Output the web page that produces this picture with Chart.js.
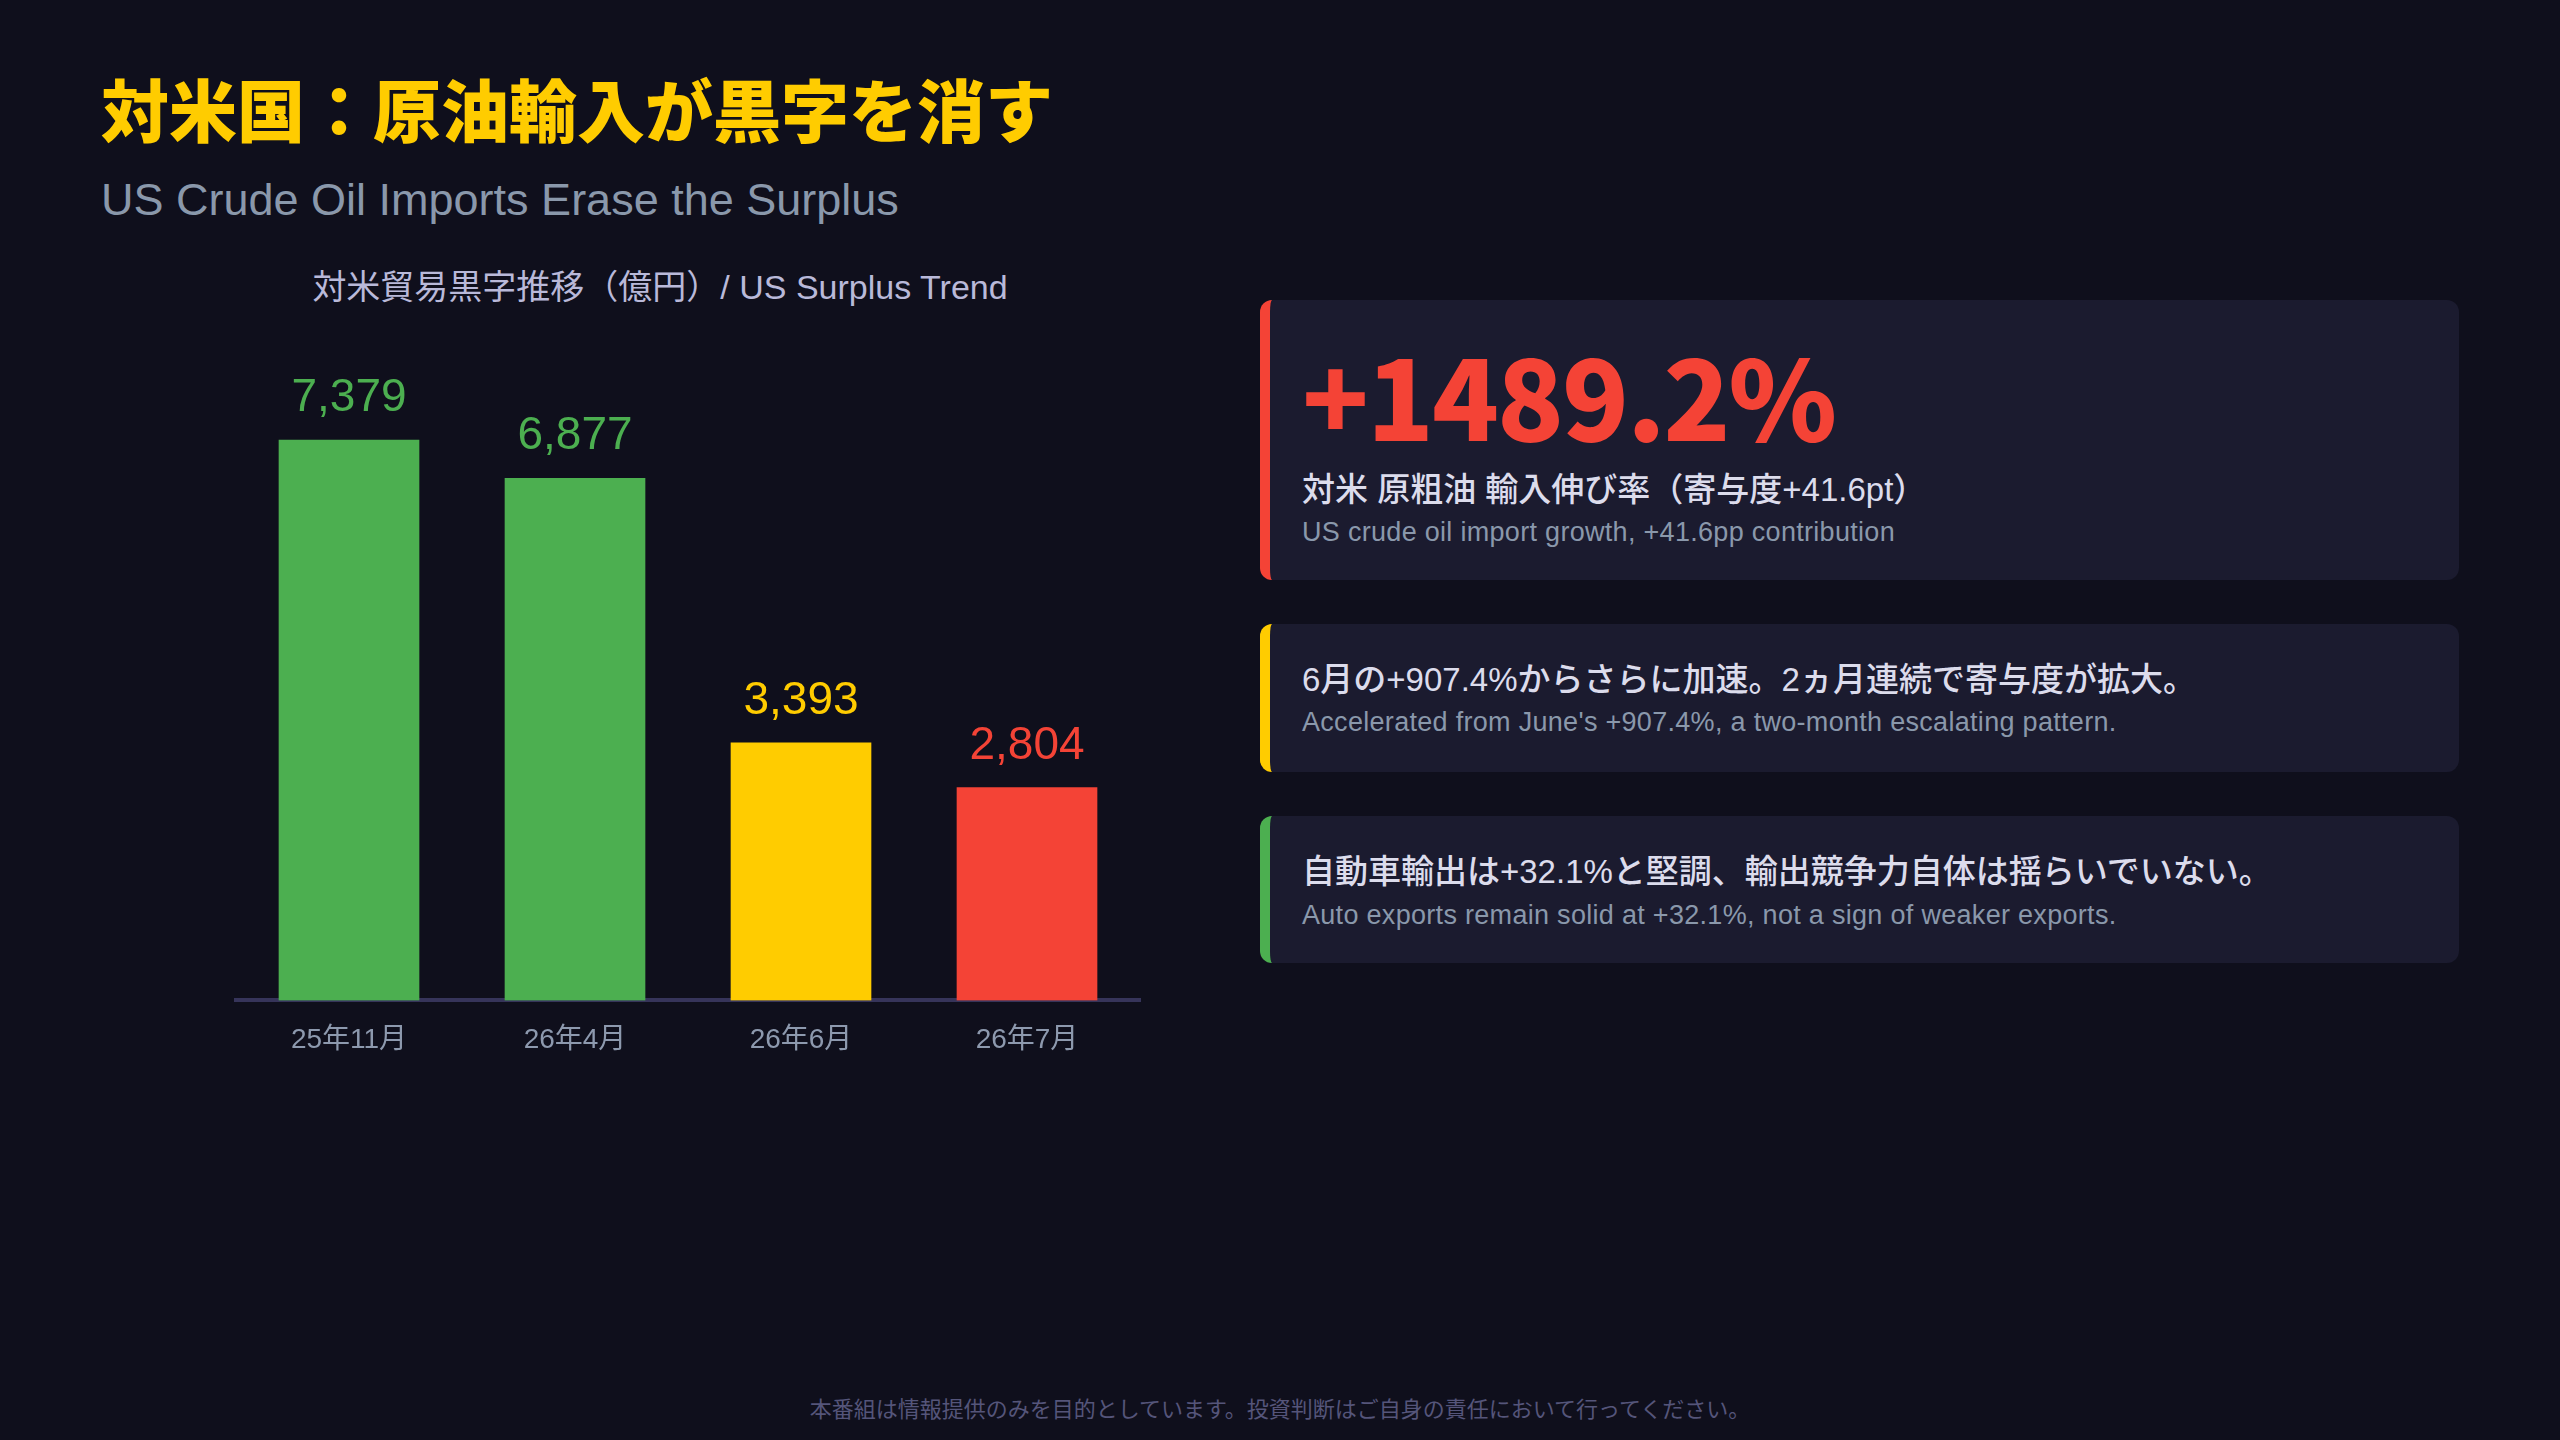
<!DOCTYPE html>
<html lang="ja">
<head>
<meta charset="utf-8">
<title>対米国：原油輸入が黒字を消す</title>
<script src="https://cdn.jsdelivr.net/npm/chart.js@4.4.1/dist/chart.umd.min.js"></script>
<style>
    html, body {
        margin: 0;
        padding: 0;
        background: #0f0f1c;
    }
    body {
        width: 2560px;
        height: 1440px;
        position: relative;
        overflow: hidden;
        font-family: "Liberation Sans", "Noto Sans CJK JP", sans-serif;
    }
    .title {
        position: absolute;
        left: 101px;
        top: 74px;
        margin: 0;
        font-family: "Noto Sans CJK JP", sans-serif;
        font-size: 68px;
        line-height: 68px;
        font-weight: 900;
        color: #ffcc00;
        white-space: nowrap;
    }
    .subtitle {
        position: absolute;
        left: 101px;
        top: 175px;
        font-size: 45px;
        line-height: 50px;
        color: #8a98ab;
        white-space: nowrap;
    }
    .chart-title {
        position: absolute;
        left: 100px;
        width: 1120px;
        top: 266px;
        text-align: center;
        font-size: 34px;
        line-height: 42px;
        color: #b9b9d9;
        white-space: nowrap;
    }
    .chart-box {
        position: absolute;
        left: 100px;
        top: 250px;
        width: 1120px;
        height: 844px;
    }
    .card {
        position: absolute;
        left: 1260px;
        width: 1189px;
        background: #1b1b2f;
        border-left: 10px solid;
        border-radius: 12px;
    }
    .card .line {
        position: absolute;
        left: 32px;
        white-space: nowrap;
    }
    .big {
        font-family: "Noto Sans CJK JP", sans-serif;
        font-size: 110px;
        line-height: 120px;
        font-weight: 900;
        color: #f44336;
        letter-spacing: -2px;
    }
    .main {
        font-size: 33px;
        line-height: 43px;
        font-weight: 500;
        color: #dcdcec;
    }
    .sub {
        font-size: 27px;
        line-height: 43px;
        letter-spacing: 0.3px;
        color: #8a98ab;
    }
    .footer {
        position: absolute;
        left: 0;
        width: 2560px;
        top: 1392px;
        text-align: center;
        font-family: "Noto Sans CJK JP", sans-serif;
        font-size: 22px;
        line-height: 30px;
        color: #55557a;
    }
</style>
</head>
<body>
    <h1 class="title">対米国：原油輸入が黒字を消す</h1>
    <div class="subtitle">US Crude Oil Imports Erase the Surplus</div>

    <div class="chart-title">対米貿易黒字推移（億円）/ US Surplus Trend</div>
    <div class="chart-box"><canvas id="surplusChart"></canvas></div>

    <div class="card" style="top:300px; height:280px; border-left-color:#f44336;">
        <div class="line big" style="top:33px;">+1489.2%</div>
        <div class="line main" style="top:168px;">対米 原粗油 輸入伸び率（寄与度+41.6pt）</div>
        <div class="line sub" style="top:211px;">US crude oil import growth, +41.6pp contribution</div>
    </div>

    <div class="card" style="top:624px; height:148px; border-left-color:#ffcc00;">
        <div class="line main" style="top:34px;">6月の+907.4%からさらに加速。2ヵ月連続で寄与度が拡大。</div>
        <div class="line sub" style="top:77px;">Accelerated from June's +907.4%, a two-month escalating pattern.</div>
    </div>

    <div class="card" style="top:816px; height:147px; border-left-color:#4caf50;">
        <div class="line main" style="top:34px;">自動車輸出は+32.1%と堅調、輸出競争力自体は揺らいでいない。</div>
        <div class="line sub" style="top:78px;">Auto exports remain solid at +32.1%, not a sign of weaker exports.</div>
    </div>

    <div class="footer">本番組は情報提供のみを目的としています。投資判断はご自身の責任において行ってください。</div>

<script>
// 対米貿易黒字（億円）
const months = ['25年11月', '26年4月', '26年6月', '26年7月'];
const surplus = [7379, 6877, 3393, 2804];
const barColors = ['#4caf50', '#4caf50', '#ffcc00', '#f44336'];

const FONT = '"Liberation Sans", "Noto Sans CJK JP", sans-serif';

// 棒の上に数値を描く
const valueLabels = {
    id: 'valueLabels',
    afterDatasetsDraw(chart) {
        const ctx = chart.ctx;
        const meta = chart.getDatasetMeta(0);
        ctx.save();
        ctx.font = '46px ' + FONT;
        ctx.textAlign = 'center';
        ctx.textBaseline = 'alphabetic';
        meta.data.forEach((bar, i) => {
            ctx.fillStyle = barColors[i];
            ctx.fillText(surplus[i].toLocaleString('en-US'), bar.x, bar.y - 29);
        });
        ctx.restore();
    }
};

window.addEventListener('load', () => {
    const ctx = document.getElementById('surplusChart');
    new Chart(ctx, {
        type: 'bar',
        data: {
            labels: months,
            datasets: [{
                data: surplus,
                backgroundColor: barColors,
                barThickness: 140,
                borderWidth: 0
            }]
        },
        options: {
            responsive: true,
            maintainAspectRatio: false,
            animation: false,
            layout: {
                padding: { left: 136, right: 80, top: 143, bottom: 14 }
            },
            plugins: {
                legend: { display: false },
                tooltip: { enabled: false },
                title: { display: false }
            },
            scales: {
                x: {
                    grid: { display: false, drawTicks: false },
                    border: { display: true, color: '#36345a', width: 4 },
                    ticks: {
                        color: '#8d99ae',
                        padding: 23,
                        font: { family: FONT, size: 28 }
                    }
                },
                y: {
                    display: false,
                    min: 0,
                    max: 8000
                }
            }
        },
        plugins: [valueLabels]
    });
});
</script>
</body>
</html>
